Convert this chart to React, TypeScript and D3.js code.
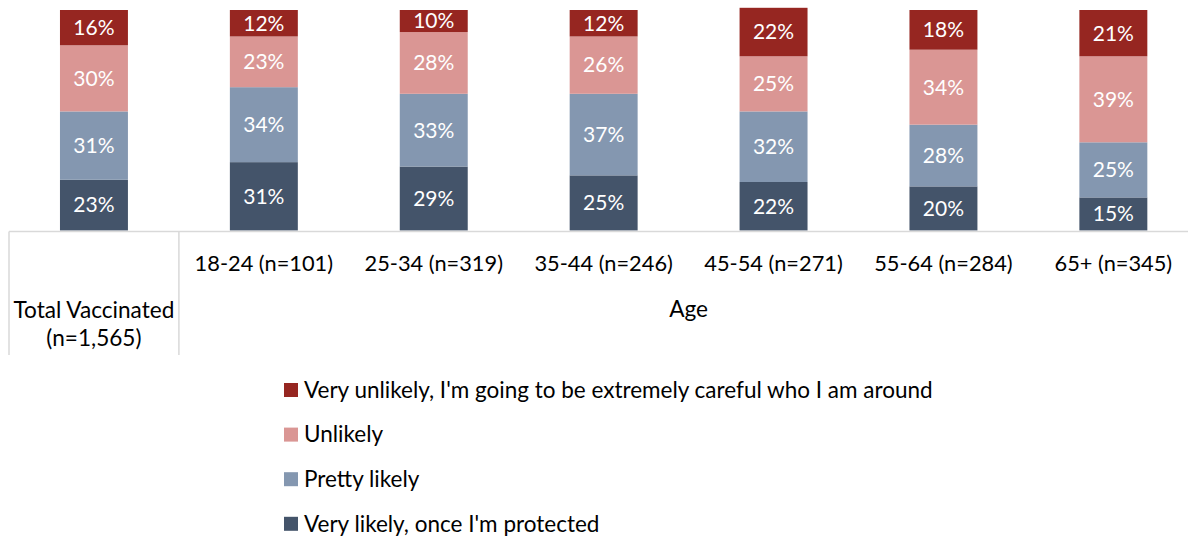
import React from "react";
import * as d3 from "d3";

const categories = [
  "Total Vaccinated (n=1,565)",
  "18-24 (n=101)",
  "25-34 (n=319)",
  "35-44 (n=246)",
  "45-54 (n=271)",
  "55-64 (n=284)",
  "65+ (n=345)",
];

// series listed bottom to top of each stacked bar
const seriesNames = [
  "Very likely, once I'm protected",
  "Pretty likely",
  "Unlikely",
  "Very unlikely, I'm going to be extremely careful who I am around",
];

const veryLikely = [23, 31, 29, 25, 22, 20, 15];
const prettyLikely = [31, 34, 33, 37, 32, 28, 25];
const unlikely = [30, 23, 28, 26, 25, 34, 39];
const veryUnlikely = [16, 12, 10, 12, 22, 18, 21];

const colors = ["#44546A", "#8497B0", "#DA9694", "#962621"];

const groupLabel = "Age";

const W = 1188;
const H = 537;
const FONT = "Lato, 'Liberation Sans', sans-serif";

export default function App() {
  const rows = categories.map((c, i) => ({
    cat: c,
    s0: veryLikely[i],
    s1: prettyLikely[i],
    s2: unlikely[i],
    s3: veryUnlikely[i],
  }));
  const keys = ["s0", "s1", "s2", "s3"];
  const stacked = d3.stack<any>().keys(keys)(rows);

  const left = 9;
  const step = 169.9;
  const x = d3
    .scaleBand<string>()
    .domain(categories)
    .range([left, left + step * categories.length])
    .paddingInner(0.6)
    .paddingOuter(0.3);

  const y = d3.scaleLinear().domain([0, 100]).range([230.5, 10]);
  const axisY = 231.5;
  const gridColor = "#D9D9D9";
  const axisFont = 21.8;

  const boundary = (i: number) => left + step * i;

  return (
    <svg
      width={W}
      height={H}
      style={{ position: "absolute", left: 0, top: 0, display: "block", background: "#fff" }}
      fontFamily={FONT}
    >
      {stacked.map((layer, li) => (
        <g key={layer.key} fill={colors[li]}>
          {layer.map((d, i) => {
            const x0 = x(categories[i])!;
            const y0 = y(d[1]);
            const h = y(d[0]) - y(d[1]);
            return (
              <g key={i}>
                <rect x={x0} y={y0} width={x.bandwidth()} height={h} />
                <text
                  x={x0 + x.bandwidth() / 2}
                  y={y0 + h / 2}
                  dy="0.35em"
                  textAnchor="middle"
                  fill="#fff"
                  fontSize={21}
                >
                  {`${d[1] - d[0]}%`}
                </text>
              </g>
            );
          })}
        </g>
      ))}

      {/* category axis */}
      <line x1={left} x2={W} y1={axisY} y2={axisY} stroke={gridColor} strokeWidth={1.5} />
      <line x1={boundary(0)} x2={boundary(0)} y1={axisY} y2={355} stroke={gridColor} strokeWidth={1.5} />
      <line x1={boundary(1)} x2={boundary(1)} y1={axisY} y2={355} stroke={gridColor} strokeWidth={1.5} />

      <text x={boundary(0) + step / 2} y={310} dy="0.35em" textAnchor="middle" fontSize={22.6} fill="#000">
        Total Vaccinated
      </text>
      <text x={boundary(0) + step / 2} y={338} dy="0.35em" textAnchor="middle" fontSize={22.6} fill="#000">
        (n=1,565)
      </text>
      {categories.slice(1).map((c) => (
        <text
          key={c}
          x={x(c)! + x.bandwidth() / 2}
          y={263}
          dy="0.35em"
          textAnchor="middle"
          fontSize={axisFont}
          fill="#000"
        >
          {c}
        </text>
      ))}
      <text
        x={(boundary(1) + boundary(categories.length)) / 2}
        y={309}
        dy="0.35em"
        textAnchor="middle"
        fontSize={22.6}
        fill="#000"
      >
        {groupLabel}
      </text>

      {/* legend, top entry is the top series */}
      {seriesNames
        .map((name, i) => ({ name, color: colors[i] }))
        .reverse()
        .map((d, i) => {
          const cy = 390 + i * 44.6;
          return (
            <g key={d.name}>
              <rect x={284} y={cy - 7} width={14} height={14} fill={d.color} />
              <text x={304} y={cy} dy="0.35em" fontSize={22.5} fill="#000">
                {d.name}
              </text>
            </g>
          );
        })}
    </svg>
  );
}
